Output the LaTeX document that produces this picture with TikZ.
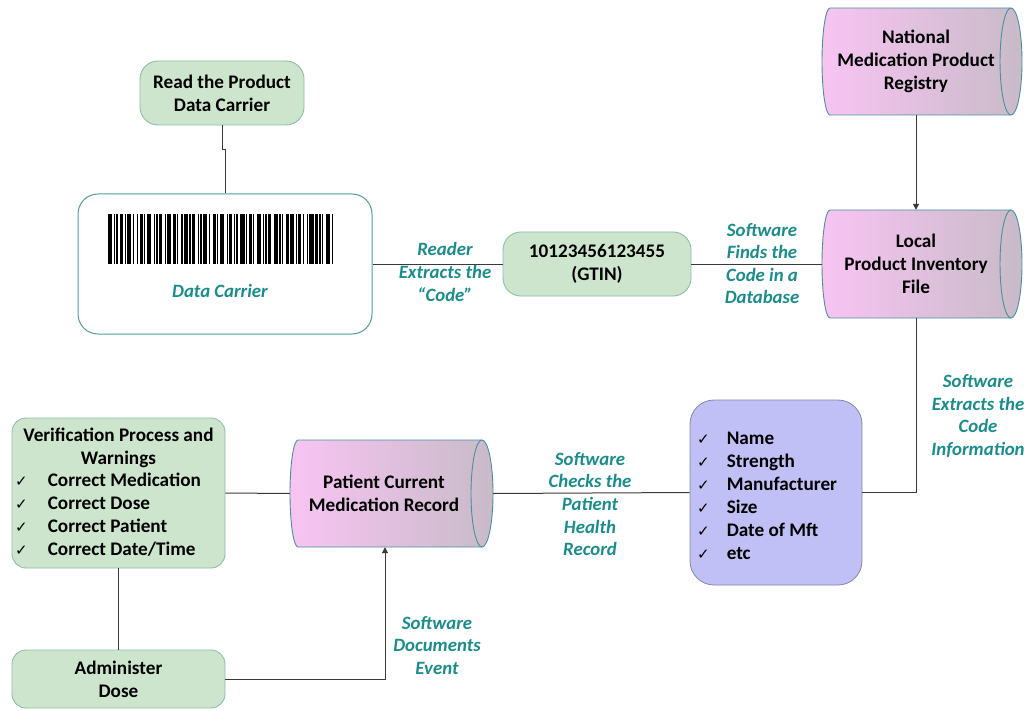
\documentclass[tikz,border=0pt]{standalone}
\usepackage{fontspec}
\setmainfont{Carlito}
\newfontfamily\symf{DejaVu Sans}
\usetikzlibrary{arrows.meta}
\definecolor{gfill}{HTML}{CDE5CD}
\definecolor{gdraw}{HTML}{8EBDA8}
\definecolor{lblc}{HTML}{1A8C8C}
\definecolor{pinkL}{HTML}{F8C4F3}
\definecolor{pinkR}{HTML}{C8BBC8}
\definecolor{cyldraw}{HTML}{4A8FA0}
\definecolor{pfill}{HTML}{C0C0F6}
\definecolor{pdraw}{HTML}{8585A8}
\definecolor{cdraw}{HTML}{4F9E9E}
\definecolor{lineC}{HTML}{3A3A3A}
\newcommand\ck{{\mdseries\symf\fontsize{15}{15}\selectfont ✓}}
\newcommand\cylpath[4]{%
  \pgfmathsetmacro\hh{(#4-#2)/2}%
  \shade[left color=pinkL, right color=pinkR, draw=cyldraw, line width=0.9pt]
   (#1+8,#2) -- (#3-11,#2) arc[start angle=-90,end angle=90,x radius=11,y radius=\hh]
   -- (#1+8,#4) arc[start angle=90,end angle=270,x radius=8,y radius=\hh] -- cycle;
  \draw[cyldraw, line width=0.9pt] (#3-11,#2) arc[start angle=-90,end angle=-270,x radius=11,y radius=\hh];
}
\begin{document}
\begin{tikzpicture}[x=1pt,y=-1pt,
  font=\fontsize{19.2}{23}\selectfont\bfseries,
  gbox/.style={draw=gdraw, fill=gfill, rounded corners=14pt, line width=0.9pt, align=center, inner sep=0pt},
  lbl/.style={text=lblc, font=\fontsize{18.8}{22.6}\selectfont\bfseries\itshape, align=center, inner sep=0pt},
  conn/.style={draw=lineC, line width=1pt},
  ghost/.style={inner sep=0pt, minimum width=#1},
  txt/.style={align=center, inner sep=0pt},
  tip/.style={-{Triangle[length=6pt,width=6pt]}}
]
\useasboundingbox (0,0) rectangle (1024,711);

% Read node
\node[gbox, minimum width=164pt, minimum height=64pt, rounded corners=18pt] (read) at (222,93) {Read the Product\\Data Carrier};

% Data carrier
\node[draw=cdraw, fill=white, rounded corners=20pt, line width=1pt, minimum width=294pt, minimum height=140pt, inner sep=0pt] (carrier) at (225,264) {};
\def\bx{108}
\foreach \b/\s in {3/1,1/1,1/2,2/1,1/1,3/1,1/2,1/1,2/1,1/1,3/2,1/1,1/1,2/2,1/1,3/1,2/1,1/2,1/1,3/1,1/1,2/2,1/1,1/1,3/1,1/2,2/1,1/1,3/2,1/1,2/1,1/1,1/2,3/1,1/1,2/1,1/2,3/1,1/1,1/1,2/2,3/1,1/1,1/2,2/1,3/1,1/1,2/1,1/2,1/1,3/1,2/1,1/1,1/2,3/1,1/1}{
  \fill[black] (\bx,214) rectangle ++(\b*1.38,50);
  \pgfmathsetmacro\tmp{\bx+(\b+\s)*1.38}
  \global\let\bx\tmp
}
\node[lbl] (dc) at (220,291) {Data Carrier};

% GTIN
\node[gbox, minimum width=188pt, minimum height=64pt, rounded corners=18pt] (gtin) at (597,264) {10123456123455\\(GTIN)};

% Cylinders
\cylpath{822}{8}{1022}{115}
\node[ghost=200pt, minimum height=107pt] (nat) at (922,61.5) {};
\node[txt] (natT) at (916,61.5) {National\\Medication Product\\Registry};

\cylpath{822}{210}{1022}{318}
\node[ghost=200pt, minimum height=108pt] (local) at (922,264) {};
\node[txt] (localT) at (916,264) {Local\\Product Inventory\\File};

\cylpath{290}{440}{493}{547}
\node[ghost=203pt, minimum height=107pt] (patient) at (391.5,493.5) {};
\node[txt] (patientT) at (384,493) {Patient Current\\Medication Record};

% Purple list box
\node[draw=pdraw, fill=pfill, rounded corners=24pt, line width=0.8pt, minimum width=172pt, minimum height=185pt, inner sep=0pt] (purple) at (776,492.5) {};
\node[anchor=west, inner sep=0pt] (plist) at (697,497) {\begin{tabular}{@{}l@{\hspace{17pt}}l@{}}
\ck & Name\\ \ck & Strength\\ \ck & Manufacturer\\ \ck & Size\\ \ck & Date of Mft\\ \ck & etc
\end{tabular}};

% Verification
\node[gbox, minimum width=213pt, minimum height=150pt] (verif) at (118.5,493) {};
\node[txt] (vt) at (118.5,447.5) {Verification Process and\\Warnings};
\node[anchor=west, inner sep=0pt] (vl) at (15,516) {\begin{tabular}{@{}l@{\hspace{20pt}}l@{}}
\ck & Correct Medication\\ \ck & Correct Dose\\ \ck & Correct Patient\\ \ck & Correct Date/Time
\end{tabular}};

% Administer
\node[gbox, minimum width=213pt, minimum height=58pt] (admin) at (118.5,679) {Administer\\Dose};

% Connectors
\draw[conn] (read.south) -- ++(0,24) -| (carrier.north);
\draw[conn] (carrier.east) -- (gtin.west);
\draw[conn] (gtin.east) -- (local.west);
\draw[conn, tip] (natT |- nat.south) -- (natT |- local.north);
\draw[conn] (localT |- local.south) |- (purple.east);
\draw[conn] (purple.west) -- (patient.east);
\draw[conn] (verif.east) -- (patient.west);
\draw[conn] (verif.south) -- (admin.north);
\coordinate (patin) at ([xshift=-6.5pt]patient.south);
\draw[conn, tip] (admin.east) -| (patin);

% Labels
\node[lbl] (l1) at (445,272) {Reader\\Extracts the\\“Code”};
\node[lbl] (l2) at (762,263.5) {Software\\Finds the\\Code in a\\Database};
\node[lbl] (l3) at (978,416) {Software\\Extracts the\\Code\\Information};
\node[lbl] (l4) at (590,504) {Software\\Checks the\\Patient\\Health\\Record};
\node[lbl] (l5) at (437,645.5) {Software\\Documents\\Event};
\end{tikzpicture}
\end{document}
